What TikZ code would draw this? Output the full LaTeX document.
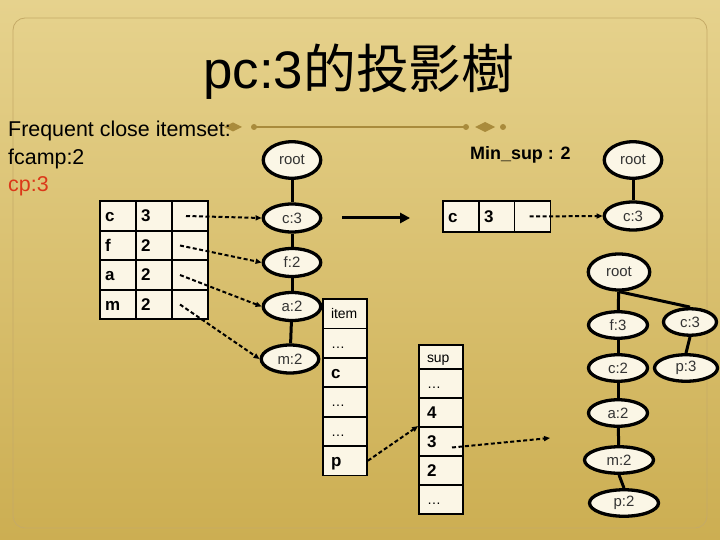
\documentclass[tikz,border=0pt]{standalone}
\usepackage{fontspec}
\setmainfont{Liberation Sans}
\newfontfamily\cjk{Noto Sans CJK TC}
\usetikzlibrary{arrows.meta,shapes.geometric}
\newlength{\du}
\setlength{\du}{1bp}
\definecolor{cream}{rgb}{0.984314, 0.964706, 0.901961}
\definecolor{goldline}{rgb}{0.662745, 0.545098, 0.235294}
\definecolor{frameline}{rgb}{0.772549, 0.666667, 0.403922}
\definecolor{cpred}{rgb}{0.858824, 0.219608, 0.098039}
\definecolor{nodetext}{rgb}{0.200000, 0.200000, 0.200000}
\definecolor{bgtop}{rgb}{0.901961, 0.823529, 0.552941}
\definecolor{bgmid}{rgb}{0.850980, 0.745098, 0.400000}
\definecolor{bgbot}{rgb}{0.800000, 0.682353, 0.321569}
\tikzset{
  treenode/.style={ellipse, draw=black, fill=cream, line width=3.3\du, inner sep=0pt,
    minimum width=57.5\du, minimum height=28\du, text=nodetext,
    font=\fontsize{15}{16}\selectfont},
  rootnode/.style={treenode, minimum height=36.5\du},
  cell/.style={rectangle, draw=black, fill=cream, line width=1.8\du, inner xsep=5\du,
    inner ysep=0pt, text width=26\du, minimum height=29.5\du, align=left,
    text height=12bp, text depth=0bp, font=\bfseries\fontsize{17}{17}\selectfont},
  widecell/.style={cell, inner xsep=8\du, text width=28\du, minimum height=29.4\du},
  thincell/.style={text height=10bp, font=\fontsize{14}{14}\selectfont},
  treeedge/.style={line width=3\du},
  ptr/.style={line width=2\du, dash pattern=on 4bp off 2.5bp,
    -{Triangle[length=6bp,width=5bp]}},
  bigarrow/.style={line width=3\du, -{Triangle[length=10bp,width=10bp]}}
}
\begin{document}
\begin{tikzpicture}
\useasboundingbox (0\du,0\du) rectangle (720\du,-540\du);
\shade[top color=bgtop, middle color=bgmid, bottom color=bgbot] (0\du,0\du) rectangle (720\du,-540\du);
\pgftransformxscale{1.000000}
\pgftransformyscale{-1.000000}
\draw[frameline, line width=0.8\du, rounded corners=12\du] (13.000000\du,18.000000\du) rectangle (707.000000\du,528.000000\du);
% divider
\draw[goldline, line width=1.5\du] (254.000000\du,127.000000\du)--(466.000000\du,127.000000\du);
\fill[goldline] (254.000000\du,127.000000\du) circle (3\du);
\fill[goldline] (466.000000\du,127.000000\du) circle (3\du);
\fill[goldline] (503.000000\du,127.000000\du) circle (3\du);
\fill[goldline] (224.000000\du,127.000000\du)--(233.000000\du,122.500000\du)--(242.000000\du,127.000000\du)--(233.000000\du,131.500000\du)--cycle;
\fill[goldline] (475.000000\du,127.000000\du)--(485.000000\du,122.000000\du)--(495.000000\du,127.000000\du)--(485.000000\du,132.000000\du)--cycle;
% title and notes
\node[anchor=base] (title) at (359.000000\du,89.000000\du){\fontsize{53}{56}\selectfont pc:3{\cjk 的投影樹}};
\node[anchor=base west, inner sep=0pt] (fcis) at (8.000000\du,137.000000\du){\fontsize{21.5}{24}\selectfont Frequent close itemset:};
\node[anchor=base west, inner sep=0pt] (fcamp) at (8.000000\du,165.000000\du){\fontsize{21.5}{24}\selectfont fcamp:2};
\node[anchor=base west, inner sep=0pt, text=cpred] (cp) at (8.000000\du,192.000000\du){\fontsize{21.5}{24}\selectfont cp:3};
\node[anchor=base west, inner sep=0pt] (minsup) at (470.000000\du,160.000000\du){\bfseries\fontsize{18}{20}\selectfont Min\_sup : 2};
% header table
\node[cell] (tc1) at (118.000000\du,216.000000\du){c};
\node[cell] (tc2) at (154.000000\du,216.000000\du){3};
\node[cell] (tc3) at (190.000000\du,216.000000\du){};
\node[cell] (tf1) at (118.000000\du,245.500000\du){f};
\node[cell] (tf2) at (154.000000\du,245.500000\du){2};
\node[cell] (tf3) at (190.000000\du,245.500000\du){};
\node[cell] (ta1) at (118.000000\du,275.000000\du){a};
\node[cell] (ta2) at (154.000000\du,275.000000\du){2};
\node[cell] (ta3) at (190.000000\du,275.000000\du){};
\node[cell] (tm1) at (118.000000\du,304.500000\du){m};
\node[cell] (tm2) at (154.000000\du,304.500000\du){2};
\node[cell] (tm3) at (190.000000\du,304.500000\du){};
% fp-tree
\node[rootnode] (rootA) at (292.000000\du,160.000000\du){root};
\node[treenode] (cA) at (292.000000\du,218.000000\du){c:3};
\node[treenode] (fA) at (292.000000\du,262.500000\du){f:2};
\node[treenode] (aA) at (292.000000\du,306.500000\du){a:2};
\node[treenode] (mA) at (290.000000\du,359.000000\du){m:2};
\draw[treeedge] (rootA)--(cA);
\draw[treeedge] (cA)--(fA);
\draw[treeedge] (fA)--(aA);
\draw[treeedge] (aA)--(mA);
\draw[ptr] ([xshift=-4bp]tc3.center)--(cA.west);
\draw[ptr] ([xshift=-10bp]tf3.center)--(fA.west);
\draw[ptr] ([xshift=-10bp]ta3.center)--(aA.west);
\draw[ptr] ([xshift=-10bp]tm3.center)--(mA.west);
% projected header table
\node[cell, minimum height=30.5\du] (mc1) at (461.000000\du,216.500000\du){c};
\node[cell, minimum height=30.5\du] (mc2) at (497.000000\du,216.500000\du){3};
\node[cell, minimum height=30.5\du] (mc3) at (532.500000\du,216.500000\du){};
\draw[bigarrow] ([xshift=20bp]cA.east)--([xshift=-32bp]mc1.west |- cA.east);
\node[rootnode] (rootB) at (633.000000\du,160.000000\du){root};
\node[treenode] (cB) at (633.000000\du,216.000000\du){c:3};
\draw[treeedge] (rootB)--(cB);
\draw[ptr] ([xshift=-3bp]mc3.center)--(cB.west);
% item / sup lists
\node[widecell, thincell] (it0) at (345.000000\du,313.700000\du){item};
\node[widecell, thincell] (it1) at (345.000000\du,343.100000\du){…};
\node[widecell] (it2) at (345.000000\du,372.500000\du){c};
\node[widecell, thincell] (it3) at (345.000000\du,401.900000\du){…};
\node[widecell, thincell] (it4) at (345.000000\du,431.300000\du){…};
\node[widecell] (it5) at (345.000000\du,460.700000\du){p};
\node[widecell, thincell, minimum height=24\du] (sp0) at (441.000000\du,357.000000\du){sup};
\node[widecell, thincell, minimum height=29\du] (sp1) at (441.000000\du,383.500000\du){…};
\node[widecell, minimum height=29\du] (sp2) at (441.000000\du,412.500000\du){4};
\node[widecell, minimum height=29\du] (sp3) at (441.000000\du,441.500000\du){3};
\node[widecell, minimum height=29\du] (sp4) at (441.000000\du,470.500000\du){2};
\node[widecell, thincell, minimum height=29\du] (sp5) at (441.000000\du,499.500000\du){…};
\coordinate (projtip) at (550.000000\du,438.000000\du);
\draw[ptr] (it5.east)--(sp3.north west);
\draw[ptr] ([xshift=11bp]sp3.base)--(projtip);
% projected tree
\node[rootnode, minimum width=61.5\du, minimum height=36\du] (rootC) at (619.000000\du,272.000000\du){root};
\node[treenode, minimum width=59\du, minimum height=26.5\du] (fC) at (618.000000\du,325.000000\du){f:3};
\node[treenode, minimum width=59\du, minimum height=26.5\du] (cC) at (618.000000\du,368.000000\du){c:2};
\node[treenode, minimum width=59\du, minimum height=26.5\du] (aC) at (618.000000\du,413.000000\du){a:2};
\node[treenode, minimum width=69\du, minimum height=26.5\du] (mC) at (619.000000\du,460.000000\du){m:2};
\node[treenode, minimum width=69\du, minimum height=26.5\du] (pC) at (624.000000\du,503.000000\du){p:2};
\node[treenode, minimum width=53\du, minimum height=26.5\du] (cD) at (690.000000\du,322.000000\du){c:3};
\node[treenode, minimum width=63\du, minimum height=26.5\du] (pD) at (686.000000\du,368.000000\du){p:3};
\draw[treeedge] (rootC)--(fC);
\draw[treeedge] (fC)--(cC);
\draw[treeedge] (cC)--(aC);
\draw[treeedge] (aC)--(mC);
\draw[treeedge] (mC.south)--(pC.north);
\draw[treeedge] (rootC.south)--(cD.north);
\draw[treeedge] (cD.south)--(pD.north);
\end{tikzpicture}
\end{document}
